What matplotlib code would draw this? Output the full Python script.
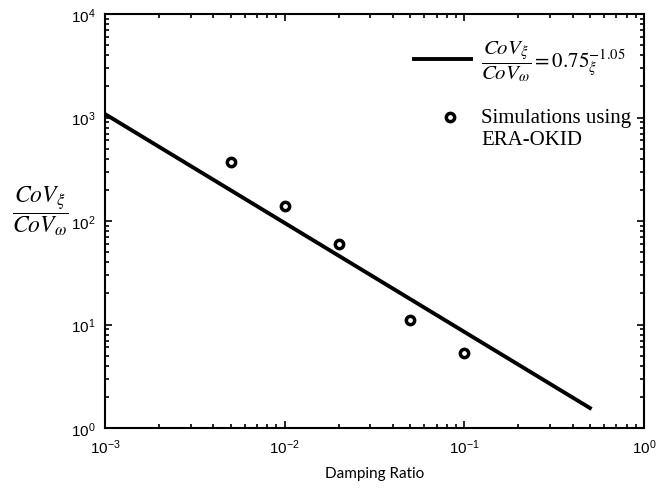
import numpy as np
import matplotlib
matplotlib.use('Agg')
import matplotlib.pyplot as plt
from matplotlib.ticker import LogLocator, NullFormatter
from matplotlib.legend_handler import HandlerLine2D
from matplotlib.font_manager import FontProperties

# fitted line, read at its two ends
fit_x = [1e-3, 0.5]
fit_y = [1080, 1.56]

# simulation results
damping = [0.005, 0.01, 0.02, 0.05, 0.1]
cov_ratio = [370, 139, 60, 11.0, 5.3]

plt.rcParams['font.family'] = ['Liberation Sans', 'DejaVu Sans']
plt.rcParams['mathtext.fontset'] = 'custom'
plt.rcParams['mathtext.rm'] = 'Liberation Sans'
plt.rcParams['mathtext.it'] = 'Liberation Sans:italic'
plt.rcParams['axes.unicode_minus'] = False


class RaisedMarker(HandlerLine2D):
    # put the marker next to the first line of a two-line label
    def __init__(self, raise_by, shift_by, **kw):
        super().__init__(**kw)
        self.raise_by = raise_by
        self.shift_by = shift_by

    def create_artists(self, legend, orig_handle, xdescent, ydescent,
                       width, height, fontsize, trans):
        return super().create_artists(legend, orig_handle,
                                      xdescent - self.shift_by * fontsize,
                                      ydescent - self.raise_by * fontsize,
                                      width, height, fontsize, trans)


fig = plt.figure(figsize=(6.63, 4.89), dpi=100)
ax = fig.add_axes([105/663, 1 - 429/489, (644-105)/663, (429-15)/489])

fit_line, = ax.loglog(fit_x, fit_y, color='black', lw=2.8,
                      label=r'$\dfrac{CoV_{\xi}}{CoV_{\omega}} = 0.75_{\xi}^{-1.05}$')
sim_pts, = ax.loglog(damping, cov_ratio, 'o', ms=6, mfc='white', mec='black', mew=2.5,
                     label='Simulations using\nERA-OKID')

ax.set_xlim(1e-3, 1)
ax.set_ylim(1, 1e4)
ax.xaxis.set_major_locator(LogLocator(base=10, numticks=10))
ax.yaxis.set_major_locator(LogLocator(base=10, numticks=10))
ax.xaxis.set_minor_locator(LogLocator(base=10, subs=np.arange(2, 10), numticks=10))
ax.yaxis.set_minor_locator(LogLocator(base=10, subs=np.arange(2, 10), numticks=10))
ax.xaxis.set_minor_formatter(NullFormatter())
ax.yaxis.set_minor_formatter(NullFormatter())
ax.tick_params(which='both', direction='in', top=True, right=True,
               labelsize=11, width=1.2)
ax.tick_params(which='major', length=5, pad=7)
ax.tick_params(which='minor', length=3)
for sp in ax.spines.values():
    sp.set_linewidth(1.5)

ax.set_xlabel('Damping Ratio', family='Lato', fontsize=11, labelpad=7)
fig.text(40/663, 1 - 211/489, r'$\dfrac{CoV_{\xi}}{CoV_{\omega}}$',
         fontsize=17, ha='center', va='center', math_fontfamily='stix')

leg_font = FontProperties(family='Liberation Serif', size=15, math_fontfamily='stix')
leg = ax.legend(handles=[fit_line, sim_pts], loc='upper right',
                bbox_to_anchor=(1.0, 0.972), frameon=False, prop=leg_font,
                handlelength=2.75, handletextpad=0.5, labelspacing=1.2,
                borderaxespad=0.2,
                handler_map={sim_pts: RaisedMarker(1.05, 0.38)})

fig.savefig('out.png', dpi=100)
